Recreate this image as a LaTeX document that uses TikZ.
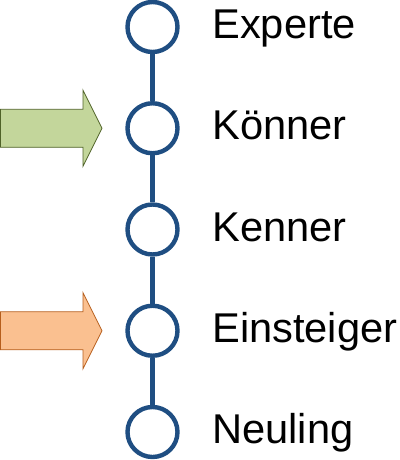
\documentclass[tikz,border=0pt]{standalone}
\usepackage{fontspec}
\setmainfont{Liberation Sans}
\usepackage{tikz}
\usepackage{xcolor}
\definecolor{stageblue}{RGB}{31,78,130}
\definecolor{markgreen}{RGB}{195,214,155}
\definecolor{markgreenline}{RGB}{79,98,40}
\definecolor{markorange}{RGB}{250,192,144}
\definecolor{markorangeline}{RGB}{182,94,28}

\begin{document}
\begin{tikzpicture}[x=0.025cm,y=-0.025cm,
  stage/.style={circle, draw=stageblue, fill=white, line width=0.11cm, minimum size=1.25cm, inner sep=0pt},
  stem/.style={stageblue, line width=0.11cm},
  level/.style={anchor=base west, inner sep=0pt, font=\fontsize{29.6pt}{35pt}\selectfont},
  marker/.style={line width=0.6pt, line join=miter}]
  \useasboundingbox (0,0) rectangle (400,460);

  % Stages
  \node[stage] (s5) at (152.5,27) {};
  \node[stage] (s4) at (152.5,128.25) {};
  \node[stage] (s3) at (152.5,229.5) {};
  \node[stage] (s2) at (152.5,330.75) {};
  \node[stage] (s1) at (152.5,432) {};

  % Stem
  \draw[stem] (s5) -- (s4);
  \draw[stem] (s4) -- (s3);
  \draw[stem] (s3) -- (s2);
  \draw[stem] (s2) -- (s1);

  % Labels
  \node[level] (l5) at (212,38.5) {Experte};
  \node[level] (l4) at (212,139.75) {Könner};
  \node[level] (l3) at (212,241) {Kenner};
  \node[level] (l2) at (212,342.25) {Einsteiger};
  \node[level] (l1) at (212,443.5) {Neuling};

  % Markers
  \draw[marker, fill=markgreen, draw=markgreenline] (0.5,109.25) -- (83,109.25) -- (83,90.25) -- (102,128.25) -- (83,166.25) -- (83,147.25) -- (0.5,147.25) -- cycle;
  \draw[marker, fill=markorange, draw=markorangeline] (0.5,311.75) -- (83,311.75) -- (83,292.75) -- (102,330.75) -- (83,368.75) -- (83,349.75) -- (0.5,349.75) -- cycle;
\end{tikzpicture}
\end{document}
